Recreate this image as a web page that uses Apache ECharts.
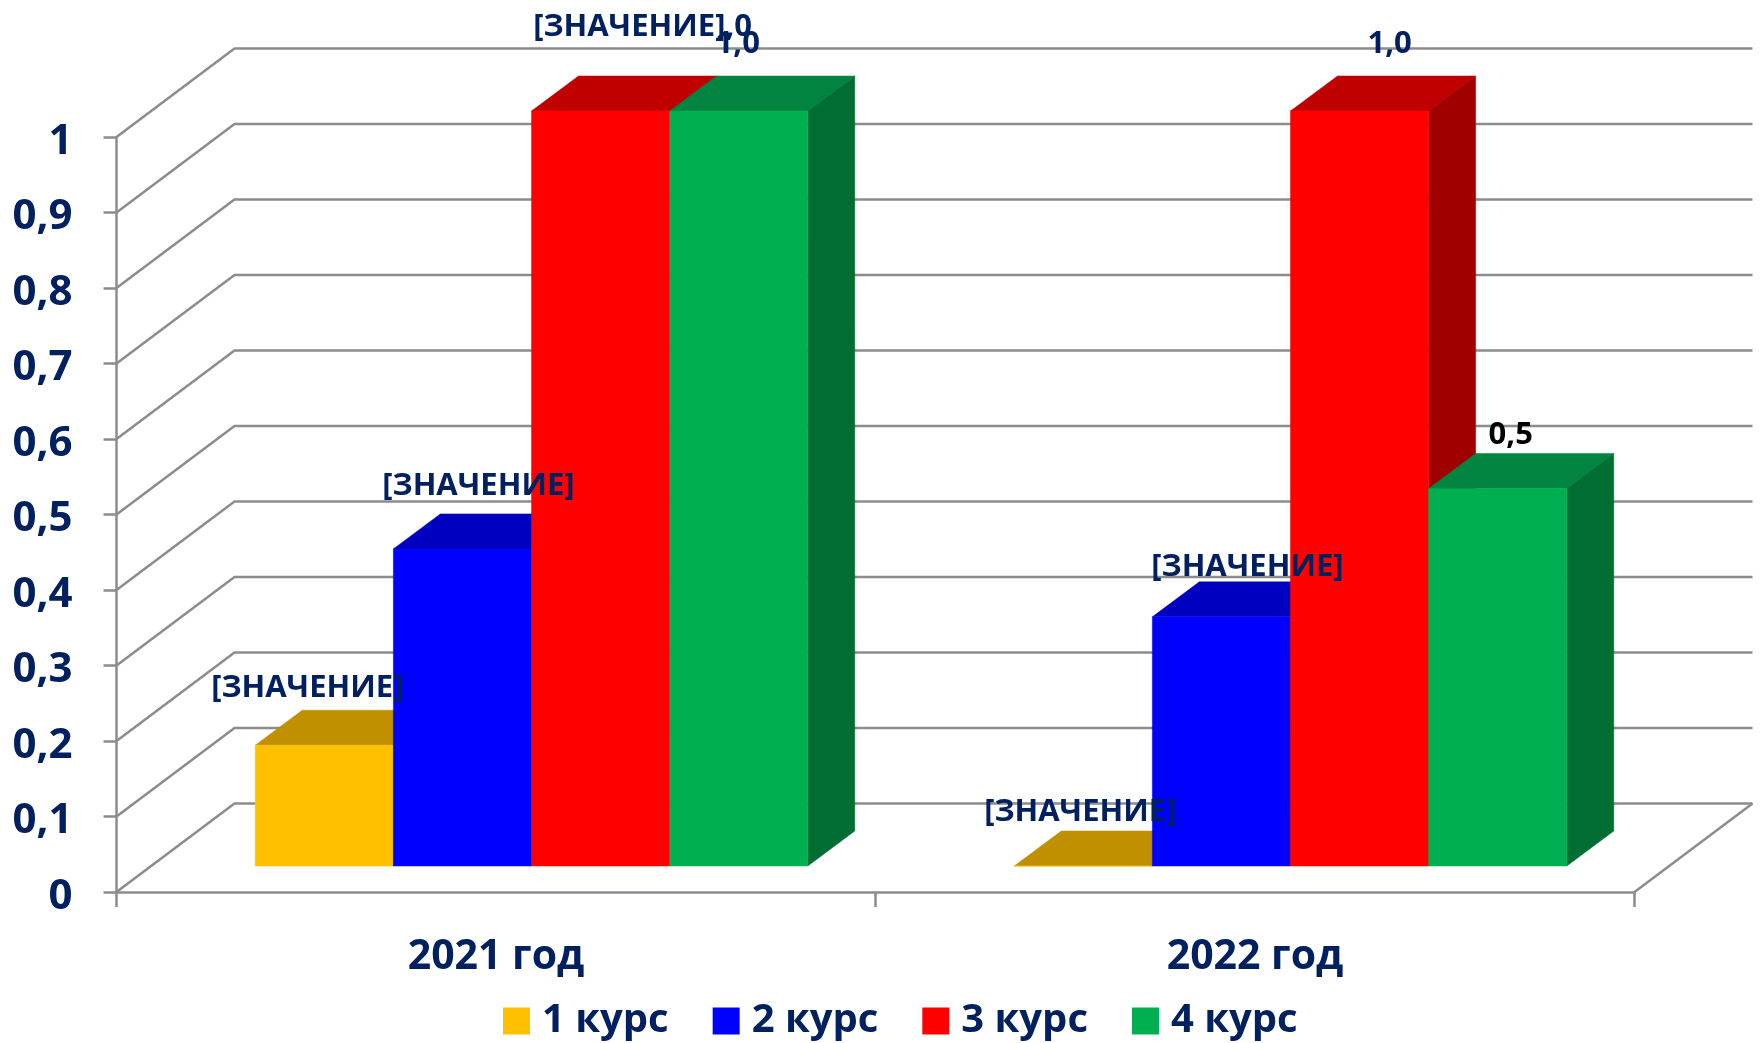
<!DOCTYPE html>
<html>
<head>
<meta charset="utf-8">
<style>html,body{margin:0;padding:0;background:#fff}#c{width:1762px;height:1043px}</style>
<script src="https://cdn.jsdelivr.net/npm/echarts@6/dist/echarts.min.js"></script>
</head>
<body>
<div id="c"></div>
<script>
const categories = ['2021 год', '2022 год'];
const courses = ['1 курс', '2 курс', '3 курс', '4 курс'];
const course1 = [0.16, 0];
const course2 = [0.42, 0.33];
const course3 = [1, 1];
const course4 = [1, 0.5];
const yTicks = [0, 0.1, 0.2, 0.3, 0.4, 0.5, 0.6, 0.7, 0.8, 0.9, 1];
const labels1 = ['[ЗНАЧЕНИЕ]', '[ЗНАЧЕНИЕ]'];
const labels2 = ['[ЗНАЧЕНИЕ]', '[ЗНАЧЕНИЕ]'];
const labels3 = ['[ЗНАЧЕНИЕ],0', '1,0'];
const labels4 = ['1,0', '0,5'];

const NAVY = '#002060', GRID = '#8c8c8c', FONT = '"Open Sans", sans-serif';
const seriesValues = [course1, course2, course3, course4];
const seriesLabels = [labels1, labels2, labels3, labels4];
const faces = [
  {front: '#FFC000', top: '#C09000', side: '#A07800'},
  {front: '#0000FF', top: '#0000C0', side: '#0000A0'},
  {front: '#FF0000', top: '#C00000', side: '#A00000'},
  {front: '#00B050', top: '#008440', side: '#006E32'}
];
// hand-placed label nudges from the front-top centre of each bar
const nudges = [
  [[-17, -57], [-3, -54]],
  [[16, -63], [26, -50]],
  [[42, -84], [30, -67]],
  [[-1, -67], [13, -53]]
];
const labelColors = [[NAVY, NAVY], [NAVY, NAVY], [NAVY, NAVY], [NAVY, '#000000']];
const WALL = {dx: 118, dy: -88.5};
const BAR_FRONT = {dx: 35.5, dy: -26};
const BAR_DEPTH = {dx: 47, dy: -35};
const BAR_SHARE = 0.182;

function wallItem(params, api) {
  const cs = params.coordSys;
  const y = api.coord([0, api.value(1)])[1];
  const x0 = cs.x, x1 = cs.x + cs.width;
  const style = {fill: null, stroke: GRID, lineWidth: 2.5};
  const children = [{
    type: 'polyline', silent: true,
    shape: {points: [[x0, y], [x0 + WALL.dx, y + WALL.dy], [x1 + WALL.dx, y + WALL.dy]]},
    style
  }];
  if (api.value(1) === 0) {
    children.push({
      type: 'line', silent: true,
      shape: {x1: x1, y1: y, x2: x1 + WALL.dx, y2: y + WALL.dy},
      style
    });
  }
  return {type: 'group', children};
}

function barRenderer(s) {
  return function (params, api) {
    const cat = api.value(0), val = api.value(1);
    const center = api.coord([cat, 0])[0];
    const w = api.size([1, 0])[0] * BAR_SHARE;
    const l = center + BAR_FRONT.dx + (s - 2) * w, r = l + w;
    const b = api.coord([cat, 0])[1] + BAR_FRONT.dy;
    const t = api.coord([cat, val])[1] + BAR_FRONT.dy;
    const dx = BAR_DEPTH.dx, dy = BAR_DEPTH.dy;
    const f = faces[s];
    const poly = (points, fill) => ({
      type: 'polygon', silent: true, shape: {points},
      style: {fill, stroke: fill, lineWidth: 0.5}
    });
    const n = nudges[s][params.dataIndex];
    return {type: 'group', children: [
      poly([[l, t], [l + dx, t + dy], [r + dx, t + dy], [r, t]], f.top),
      poly([[r, t], [r + dx, t + dy], [r + dx, b + dy], [r, b]], f.side),
      poly([[l, t], [r, t], [r, b], [l, b]], f.front),
      {
        type: 'text', silent: true, z2: 100,
        x: (l + r) / 2 + n[0], y: t + n[1],
        style: {
          text: seriesLabels[s][params.dataIndex],
          fill: labelColors[s][params.dataIndex],
          font: '700 31px ' + FONT,
          align: 'center', verticalAlign: 'middle'
        }
      }
    ]};
  };
}

const series = [{
  type: 'custom', name: 'walls', silent: true, clip: false, z: 1,
  renderItem: wallItem,
  data: yTicks.map(v => [0, v])
}];
courses.forEach((name, s) => {
  series.push({
    type: 'custom', name, silent: true, clip: false, z: 2,
    renderItem: barRenderer(s),
    itemStyle: {color: faces[s].front},
    data: seriesValues[s].map((v, i) => [i, v])
  });
});

const chart = echarts.init(document.getElementById('c'), null, {renderer: 'canvas'});
chart.setOption({
  animation: false,
  backgroundColor: '#ffffff',
  grid: {left: 116.5, right: 127.5, top: 137, bottom: 151, containLabel: false},
  legend: {
    data: courses, left: 498, top: 996,
    icon: 'rect', itemWidth: 27, itemHeight: 27, itemGap: 44, selectedMode: false,
    textStyle: {color: NAVY, fontFamily: FONT, fontWeight: 700, fontSize: 40, padding: [0, 0, 0, 7]}
  },
  xAxis: {
    type: 'category', data: categories, boundaryGap: true,
    axisLine: {lineStyle: {color: GRID, width: 2.5}},
    axisTick: {show: true, length: 15, lineStyle: {color: GRID, width: 2.5}},
    axisLabel: {color: NAVY, fontFamily: FONT, fontWeight: 700, fontSize: 41, margin: 45, interval: 0},
    z: 3
  },
  yAxis: {
    type: 'value', min: 0, max: 1, interval: 0.1,
    splitLine: {show: false},
    axisLine: {show: true, lineStyle: {color: GRID, width: 2.5}},
    axisTick: {show: true, length: 13, lineStyle: {color: GRID, width: 2.5}},
    axisLabel: {
      color: NAVY, fontFamily: FONT, fontWeight: 700, fontSize: 42, margin: 44,
      verticalAlign: 'top', lineHeight: 10,
      formatter: v => String(Math.round(v * 10) / 10).replace('.', ',')
    }
  },
  series
});
</script>
</body>
</html>
